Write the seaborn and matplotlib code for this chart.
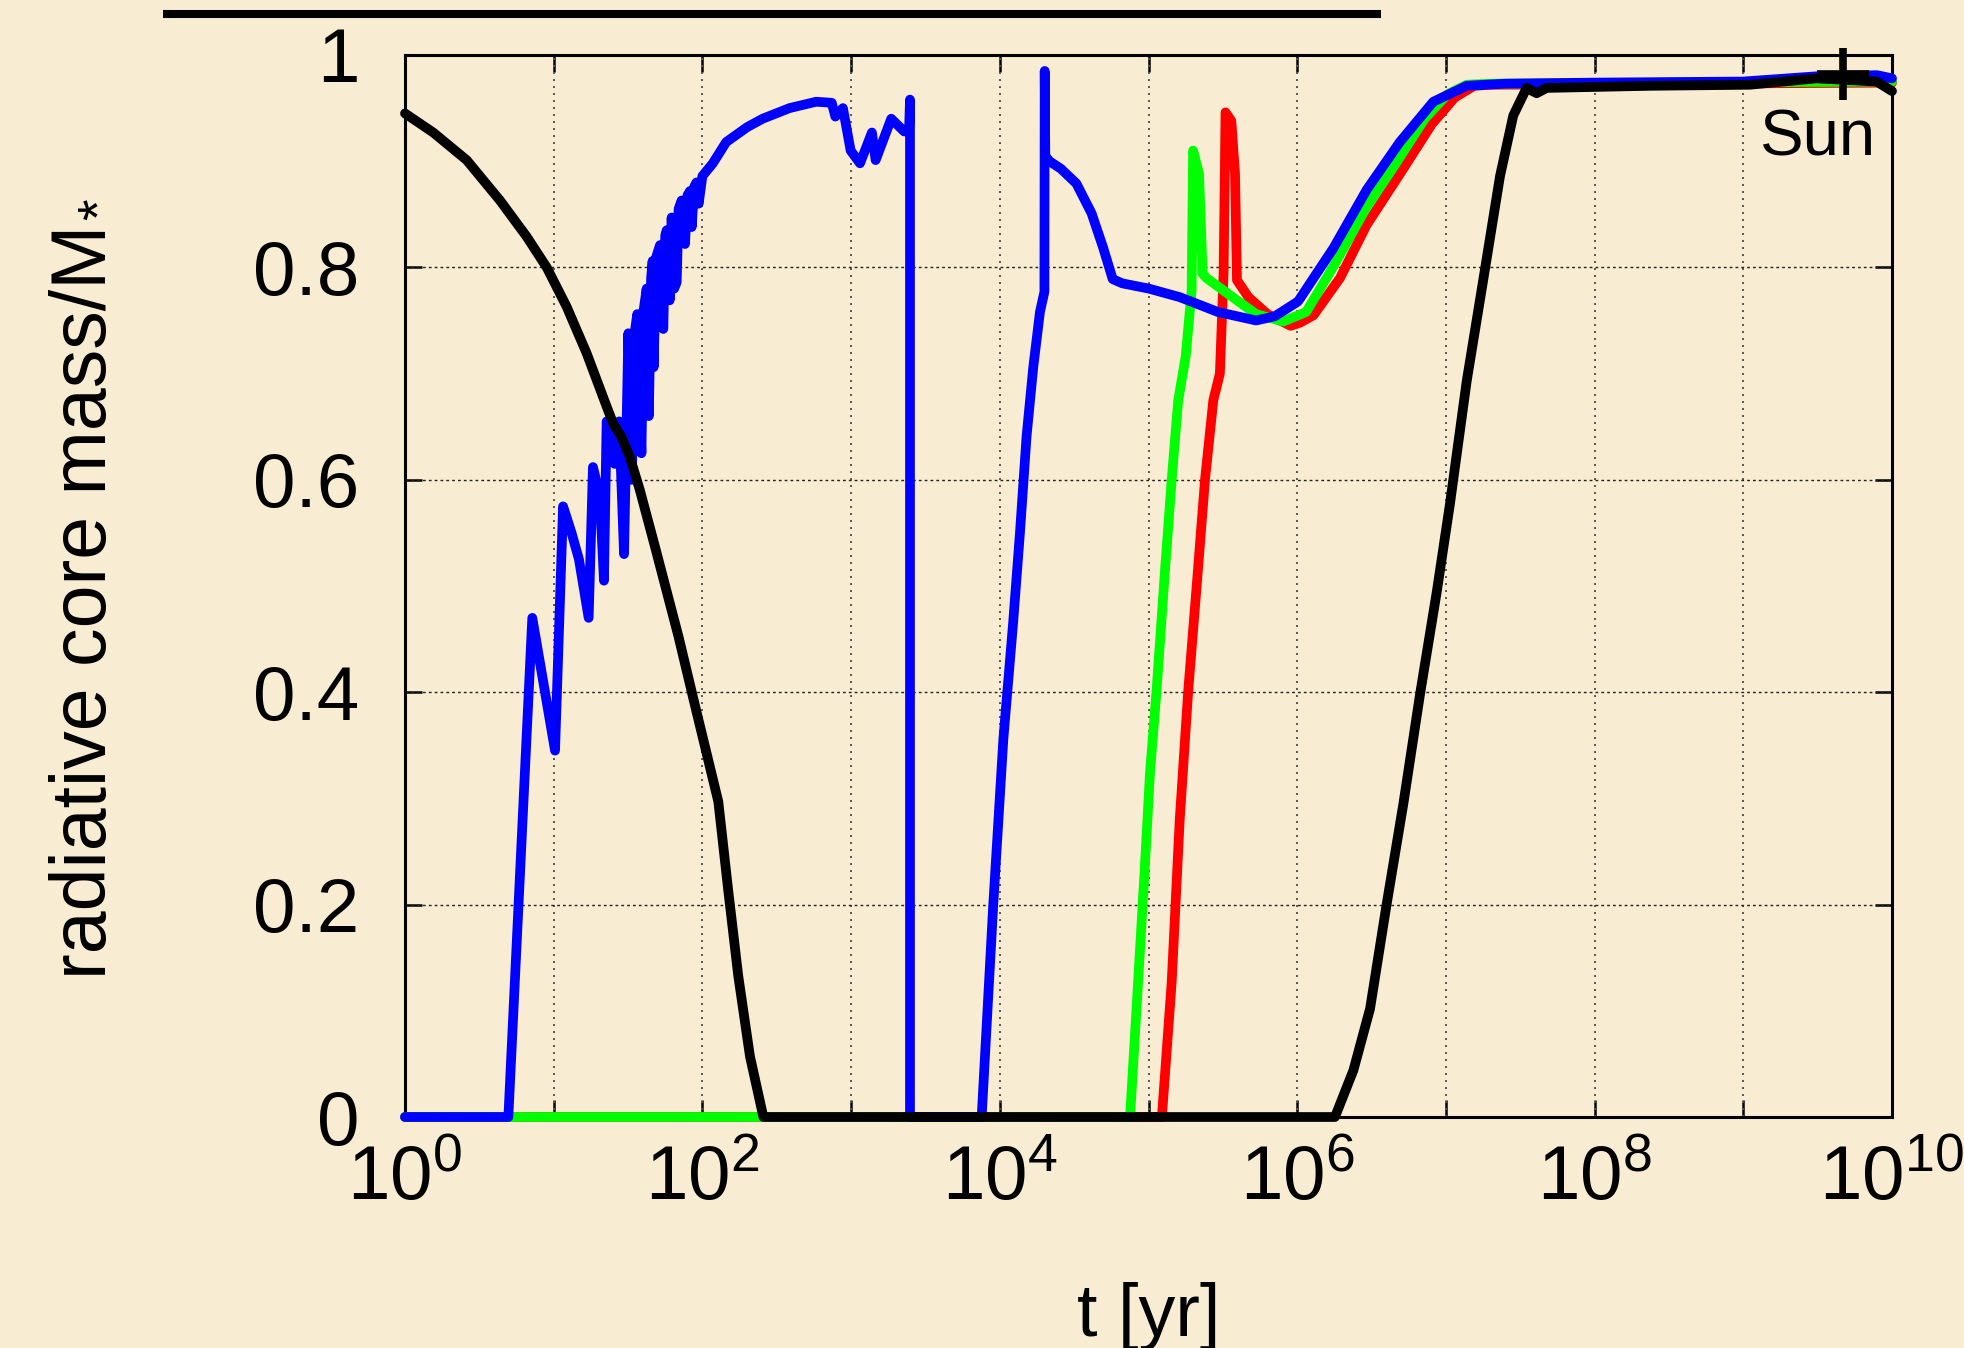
import numpy as np
import pandas as pd
import matplotlib
matplotlib.use("Agg")
import matplotlib.pyplot as plt
from matplotlib.lines import Line2D
from matplotlib import ticker
import seaborn as sns

# ---------------- data (log10 of t in years, radiative core mass fraction) ----------------
blue_logt = [0.0, 0.695, 0.856, 1.009, 1.063, 1.12, 1.17, 1.235, 1.264, 1.31, 1.338, 1.356,
             1.41, 1.44, 1.473, 1.502, 1.525, 1.546, 1.562, 1.59, 1.605, 1.625, 1.64, 1.655,
             1.665, 1.672, 1.69, 1.715, 1.737, 1.75, 1.76, 1.78, 1.793, 1.81, 1.827, 1.84,
             1.86, 1.883, 1.90, 1.917, 1.928, 1.945, 1.96, 1.975, 2.0,
             2.07, 2.16, 2.30, 2.405, 2.586, 2.765,
             2.87, 2.894, 2.945, 2.997, 3.06, 3.14, 3.165, 3.27, 3.357, 3.39, 3.396, 3.396,
             3.878, 3.956, 4.024, 4.09, 4.136, 4.18, 4.225, 4.27, 4.30, 4.302, 4.306, 4.334,
             4.41, 4.515, 4.617, 4.694, 4.759, 4.823, 5.003, 5.21, 5.467, 5.724, 5.85, 6.006,
             6.243, 6.467, 6.69, 6.915, 7.14, 7.40, 8.0, 9.0, 9.5, 9.9, 10.0]
blue_frac = [0.0, 0.0, 0.47, 0.345, 0.575, 0.55, 0.525, 0.47, 0.612, 0.585, 0.505, 0.655,
             0.615, 0.655, 0.53, 0.738, 0.60, 0.74, 0.756, 0.625, 0.76, 0.78, 0.66, 0.79,
             0.806, 0.706, 0.81, 0.821, 0.742, 0.83, 0.835, 0.769, 0.847, 0.78, 0.786, 0.855,
             0.863, 0.822, 0.868, 0.872, 0.838, 0.876, 0.88, 0.86, 0.886,
             0.898, 0.918, 0.932, 0.94, 0.95, 0.956,
             0.955, 0.942, 0.95, 0.91, 0.898, 0.927, 0.901, 0.94, 0.928, 0.93, 0.958, 0.0,
             0.0, 0.2, 0.356, 0.466, 0.551, 0.641, 0.706, 0.758, 0.777, 0.985, 0.905, 0.90,
             0.893, 0.879, 0.851, 0.819, 0.789, 0.785, 0.780, 0.772, 0.758, 0.750, 0.754, 0.768,
             0.818, 0.873, 0.918, 0.956, 0.971, 0.973, 0.974, 0.975, 0.980, 0.981, 0.978]

green_logt = [0.0, 4.876, 4.93, 4.976, 5.01, 5.055, 5.11, 5.156, 5.20, 5.25, 5.29, 5.30, 5.34,
              5.364, 5.39, 5.595, 5.724, 5.905, 6.06, 6.24, 6.467, 6.65, 6.857, 7.01, 7.14,
              7.3, 10.0]
green_frac = [0.0, 0.0, 0.127, 0.237, 0.324, 0.403, 0.513, 0.60, 0.675, 0.716, 0.778, 0.910, 0.888,
              0.794, 0.79, 0.769, 0.756, 0.749, 0.758, 0.80, 0.857, 0.895, 0.94, 0.963, 0.972,
              0.973, 0.975]

red_logt = [0.0, 5.09, 5.156, 5.21, 5.268, 5.324, 5.38, 5.436, 5.48, 5.505, 5.518, 5.557, 5.582,
            5.595, 5.672, 5.80, 5.955, 6.02, 6.11, 6.288, 6.467, 6.70, 6.906, 7.06, 7.19, 7.3, 10.0]
red_frac = [0.0, 0.0, 0.127, 0.28, 0.403, 0.50, 0.60, 0.675, 0.70, 0.794, 0.946, 0.938, 0.888,
            0.788, 0.772, 0.756, 0.745, 0.748, 0.755, 0.79, 0.84, 0.89, 0.935, 0.960, 0.971,
            0.972, 0.974]

black_logt = [0.0, 0.19, 0.415, 0.639, 0.818, 0.953, 1.087, 1.222, 1.356, 1.40, 1.457, 1.513,
              1.58, 1.685, 1.84, 1.939, 2.107, 2.174, 2.241, 2.32, 2.41, 6.254, 6.378, 6.49,
              6.60, 6.714, 6.826, 6.938, 7.027, 7.14, 7.252, 7.364, 7.453, 7.543, 7.61, 7.678,
              8.37, 9.045, 9.49, 9.897, 10.0]
black_frac = [0.945, 0.927, 0.901, 0.863, 0.829, 0.800, 0.763, 0.719, 0.669, 0.653, 0.640, 0.621,
              0.590, 0.535, 0.452, 0.394, 0.297, 0.213, 0.133, 0.057, 0.0, 0.0, 0.044, 0.102,
              0.199, 0.295, 0.398, 0.494, 0.577, 0.693, 0.789, 0.886, 0.943, 0.969, 0.964, 0.969,
              0.971, 0.972, 0.978, 0.975, 0.966]

sun_logt = 9.668
sun_frac = 0.982

model_order = ["red", "green", "blue", "black"]
model_colors = {"red": "#ff0000", "green": "#00ff00", "blue": "#0000ff", "black": "#000000"}

x_tick_exponents = list(range(0, 11))
y_ticks = [0, 0.2, 0.4, 0.6, 0.8, 1.0]
y_tick_labels = ["0", "0.2", "0.4", "0.6", "0.8", "1"]

# ---------------- long-form table ----------------
series = {"red": (red_logt, red_frac), "green": (green_logt, green_frac),
          "blue": (blue_logt, blue_frac), "black": (black_logt, black_frac)}
rows = []
for name in model_order:
    lt, fr = series[name]
    for a, b in zip(lt, fr):
        rows.append({"model": name, "t": 10.0 ** a, "frac": b})
df = pd.DataFrame(rows)

# ---------------- style ----------------
BG = "#f8edd3"
LW = 7.0
sns.set_theme(style="ticks", rc={"lines.linewidth": LW})
plt.rcParams["font.family"] = ["Liberation Sans", "DejaVu Sans"]
plt.rcParams["mathtext.fontset"] = "custom"
plt.rcParams["mathtext.rm"] = "Liberation Sans"
plt.rcParams["mathtext.it"] = "Liberation Sans:italic"
plt.rcParams["mathtext.default"] = "regular"

fig = plt.figure(figsize=(19.65, 13.48), dpi=100, facecolor=BG)
ax = fig.add_axes([405 / 1965, 1 - 1117 / 1348, (1892 - 405) / 1965, (1117 - 55) / 1348])
ax.set_facecolor(BG)

sns.lineplot(data=df, x="t", y="frac", hue="model", hue_order=model_order,
             palette=model_colors, estimator=None, sort=False,
             legend=False, ax=ax, lw=LW)
for ln in ax.get_lines():
    ln.set_linewidth(LW)
    ln.set_clip_on(False)
    ln.set_zorder(3)
    ln.set_solid_joinstyle("round")

ax.set_xscale("log")
ax.set_xlim(1, 1e10)
ax.set_ylim(0, 1)

ax.xaxis.set_major_locator(ticker.FixedLocator([10.0 ** e for e in x_tick_exponents]))
ax.xaxis.set_minor_locator(ticker.NullLocator())
ax.xaxis.set_major_formatter(ticker.FixedFormatter(
    [(r"$10^{%d}$" % e) if e % 2 == 0 else "" for e in x_tick_exponents]))
ax.yaxis.set_major_locator(ticker.FixedLocator(y_ticks))
ax.yaxis.set_major_formatter(ticker.FixedFormatter(y_tick_labels))

ax.tick_params(axis="both", which="major", direction="in", length=12, width=1.8,
               top=True, right=True, labelsize=55, colors="black")
ax.tick_params(axis="x", pad=20)
ax.tick_params(axis="y", pad=33)

for e in x_tick_exponents[1:-1]:
    ax.axvline(10.0 ** e, color="#555555", lw=1.4, ls=(0, (1, 2.6)), zorder=1)
for yv in y_ticks[1:-1]:
    ax.axhline(yv, color="#222222", lw=1.0, ls=(0, (2.0, 2.2)), zorder=1)

for sp in ax.spines.values():
    sp.set_linewidth(2.2)
    sp.set_color("black")
    sp.set_zorder(2)

# Sun marker and label
ax.plot([10.0 ** sun_logt], [sun_frac], marker="+", markersize=38, markeredgewidth=5.5,
        color="black", zorder=5, clip_on=False)
ax.text(10.0 ** 9.50, 0.905, "Sun", fontsize=47, ha="center", va="baseline", color="black",
        zorder=6)

ax.set_xlabel("t [yr]", fontsize=53, labelpad=48, color="black")
ax.set_ylabel("radiative core mass/M", fontsize=55.5, color="black")
ax.yaxis.set_label_coords(-0.190, 0.485)

# subscript asterisk of M_*, placed just after the end of the rotated label
fig.canvas.draw()
bb = ax.yaxis.label.get_window_extent()
fig.text(102 / 1965, (bb.y1 + 15) / 1348, "*", fontsize=40, rotation=90,
         ha="center", va="center", color="black")

# decorative bar at the top
fig.add_artist(Line2D([163 / 1965, 1381 / 1965], [1 - 14 / 1348, 1 - 14 / 1348],
                      color="black", lw=5.8, solid_capstyle="butt"))

fig.savefig("out.png", dpi=100, facecolor=BG)
